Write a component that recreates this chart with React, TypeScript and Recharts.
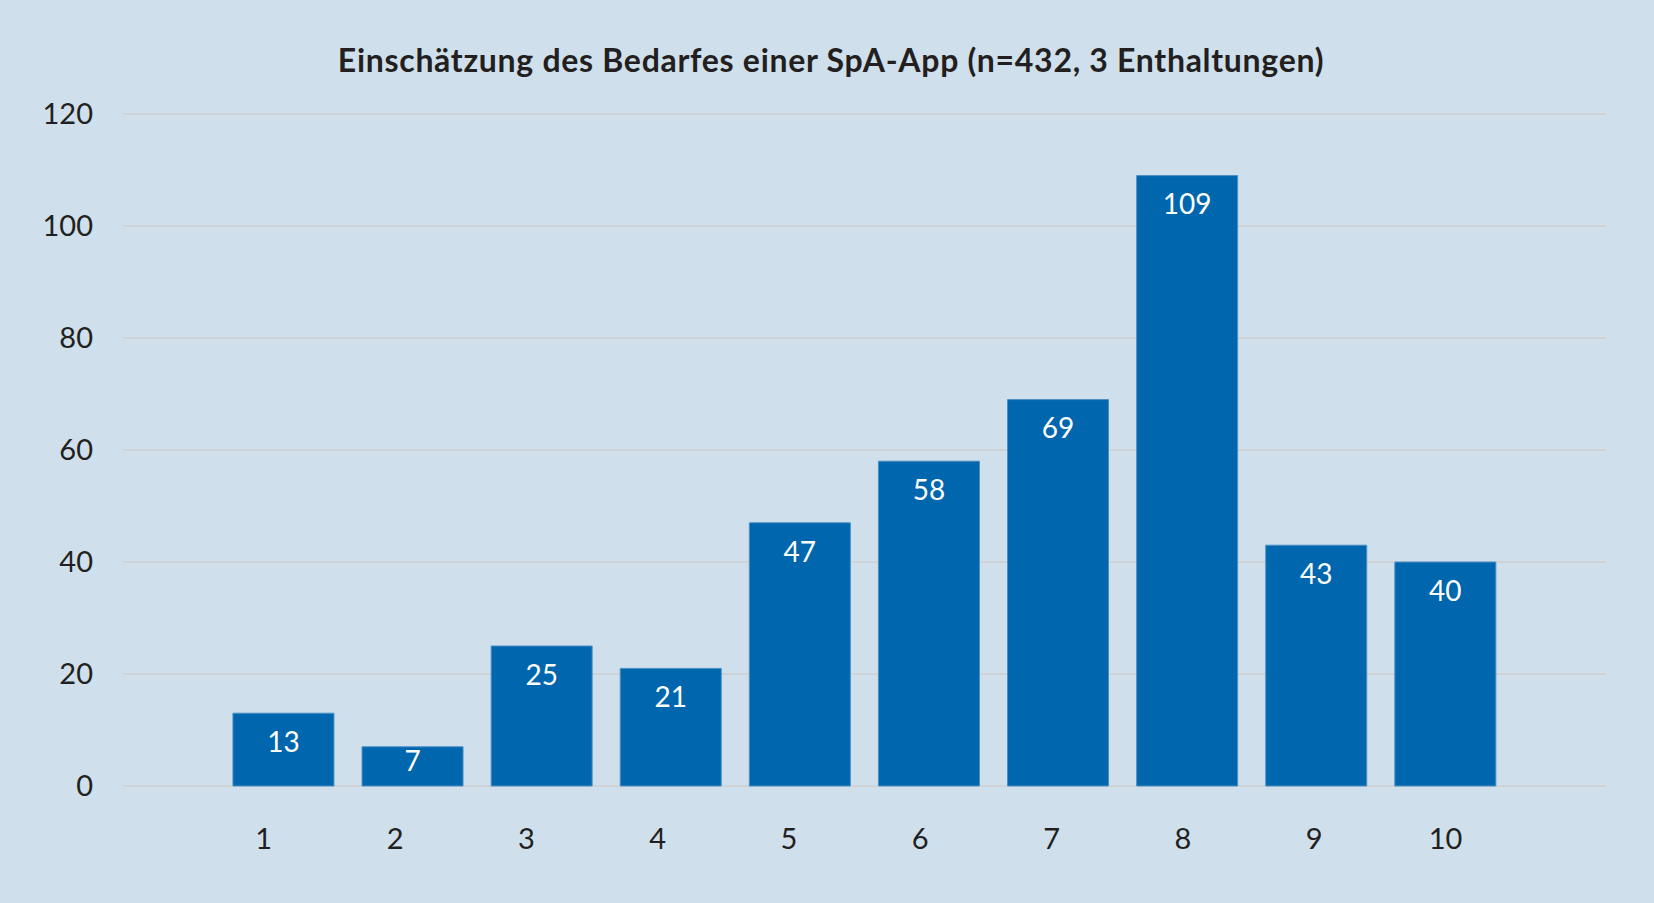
import { BarChart, Bar, XAxis, YAxis, CartesianGrid, LabelList } from "recharts";

const ratings = ["1", "2", "3", "4", "5", "6", "7", "8", "9", "10"];
const counts = [13, 7, 25, 21, 47, 58, 69, 109, 43, 40];
const yTicks = [0, 20, 40, 60, 80, 100, 120];

const data = ratings.map((rating, i) => ({ rating, count: counts[i] }));

const font = "Lato, 'Open Sans', sans-serif";
const textColor = "#231f20";

// the original labels drift a little left of their bars towards the start
function RatingTick(props: any) {
  const { x, y, payload, index } = props;
  const shift = -(ratings.length - 1 - index) * 2.2;
  return (
    <text
      x={x + shift}
      y={y}
      dy="0.71em"
      textAnchor="middle"
      fill={textColor}
      fontSize={29}
      fontFamily={font}
    >
      {payload.value}
    </text>
  );
}

// value label inside the bar top; short bars push it up towards the edge
function ValueLabel(props: any) {
  const { x, y, width, height, value } = props;
  const offset = Math.max(4, Math.min(19, height - 35));
  return (
    <text
      x={x + width / 2}
      y={y + offset}
      dy="0.71em"
      textAnchor="middle"
      fill="#ffffff"
      fontSize={28}
      fontFamily={font}
    >
      {value}
    </text>
  );
}

export default function App() {
  return (
    <div
      style={{
        position: "absolute",
        left: 0,
        top: 0,
        width: 1654,
        height: 903,
        background: "#cfe0ec",
        fontFamily: font,
      }}
    >
      <div
        style={{
          position: "absolute",
          top: 44,
          left: 0,
          width: 1654,
          textAlign: "center",
          fontSize: 32,
          lineHeight: "32px",
          letterSpacing: 0.7,
          fontWeight: 700,
          color: textColor,
          paddingLeft: 8,
          boxSizing: "border-box",
        }}
      >
        Einschätzung des Bedarfes einer SpA-App (n=432, 3 Enthaltungen)
      </div>
      <BarChart
        width={1654}
        height={903}
        data={data}
        margin={{ top: 114, right: 48, bottom: 57, left: 43 }}
        barCategoryGap="10.8%"
      >
        <CartesianGrid vertical={false} stroke="#d0d3d6" strokeWidth={2} />
        <XAxis
          dataKey="rating"
          height={60}
          axisLine={false}
          tickLine={false}
          tickSize={0}
          tickMargin={42}
          padding={{ left: 96, right: 96 }}
          tick={<RatingTick />}
        />
        <YAxis
          width={80}
          domain={[0, 120]}
          ticks={yTicks}
          axisLine={false}
          tickLine={false}
          tickSize={0}
          tickMargin={30}
          tick={{ fill: textColor, fontSize: 29, fontFamily: font }}
        />
        <Bar
          dataKey="count"
          fill="#0066ad"
          stroke="#4a8fc6"
          strokeWidth={1}
          isAnimationActive={false}
        >
          <LabelList dataKey="count" content={<ValueLabel />} />
        </Bar>
      </BarChart>
    </div>
  );
}
